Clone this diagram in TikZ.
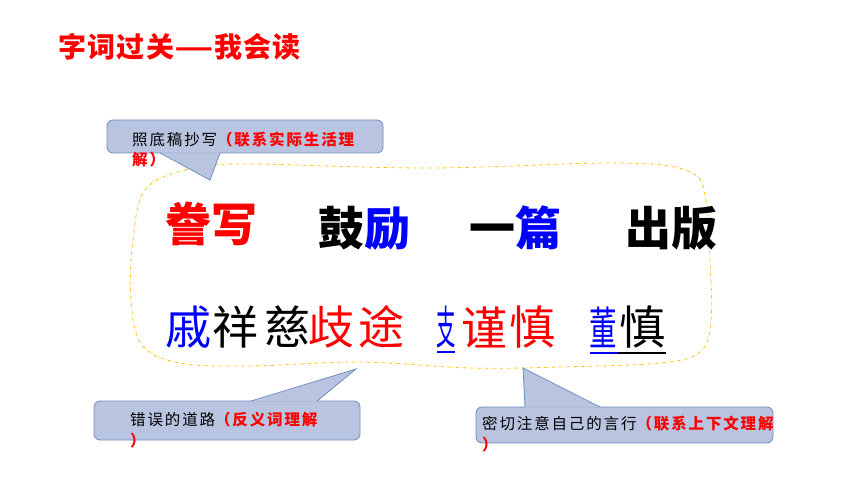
\documentclass[tikz,border=0pt]{standalone}
\usepackage{fontspec}
\newfontfamily\cjk{Noto Sans CJK SC}
\newfontfamily\cjksp{Noto Sans CJK SC}[LetterSpace=12]
\newfontfamily\cjktitle{Noto Sans CJK SC}[LetterSpace=5]
\definecolor{calloutfill}{RGB}{185,196,224}
\definecolor{calloutline}{RGB}{110,140,190}
\definecolor{cloudline}{RGB}{255,192,0}
\definecolor{hired}{RGB}{255,0,0}
\definecolor{hiblue}{RGB}{0,0,255}
\tikzset{
    callout/.style={fill=calloutfill, draw=calloutline, line width=0.8pt},
    note/.style={anchor=base west, inner sep=0pt, align=left, font=\fontsize{15.5}{20.5}\cjksp},
    word/.style={inner sep=0pt, font=\fontsize{46}{46}\cjk\bfseries},
    glyph/.style={inner sep=0pt, font=\fontsize{46}{46}\cjk},
}
\begin{document}
\begin{tikzpicture}[x=1pt,y=-1pt]
            \useasboundingbox (0,0) rectangle (860,484);
            \node[anchor=west, inner sep=0pt, text=hired, font=\fontsize{28}{28}\cjktitle\bfseries] (title) at (58,47) {字词过关\scalebox{1.55}[1]{—}我会读};

            % cloud round the words
            \draw[cloudline, dash dot, line width=0.8pt] plot[smooth cycle, tension=0.6] coordinates {
                (145,190) (185,170) (240,164) (430,168) (620,163) (690,172) (706,200)
                (710,260) (711,320) (700,352) (660,363) (560,367) (470,368) (360,362)
                (250,366) (180,363) (142,345) (131,300) (133,240)};

            % callouts
            \draw[callout, rounded corners=6pt] (107,120) rectangle (383,153);
            \fill[calloutfill] (160,152.4) -- (210,180) -- (220,152.4) -- cycle;
            \draw[calloutline, line width=0.8pt] (160,153) -- (210,180) -- (220,153);

            \draw[callout, rounded corners=6pt] (94,401) rectangle (360,440);
            \fill[calloutfill] (251,401.6) -- (356,369) -- (317,401.6) -- cycle;
            \draw[calloutline, line width=0.8pt] (251,401) -- (356,369) -- (317,401);

            \draw[callout, rounded corners=6pt] (476,407) rectangle (773,443);
            \fill[calloutfill] (525,407.6) -- (523,368) -- (600,407.6) -- cycle;
            \draw[calloutline, line width=0.8pt] (525,407) -- (523,368) -- (600,407);

            % base of each note is the baseline of its second line
            \node[note] (copynote) at (132,166) {照底稿抄写\textcolor{hired}{\bfseries（联系实际生活理}\\\textcolor{hired}{\bfseries 解）}};
            \node[note] (roadnote) at (130,446) {错误的道路\textcolor{hired}{\bfseries（反义词理解}\\\textcolor{hired}{\bfseries ）}};
            \node[note] (carenote) at (482,450) {密切注意自己的言行\textcolor{hired}{\bfseries（联系上下文理解}\\\textcolor{hired}{\bfseries ）}};

            % first row
            \node[word, text=hired] (tengxie) at (211.5,224) {誊写};
            \node[word] (guli) at (364,228) {鼓\textcolor{hiblue}{励}};
            \node[word] (yipian) at (515,228) {一\textcolor{hiblue}{篇}};
            \node[word] (chuban) at (671,228) {出版};

            % second row
            \foreach \cx/\cc/\ch [count=\i] in {188/hiblue/戚,235/black/祥,287/black/慈,331/hired/歧,381/hired/途,484/hired/谨,532/hired/慎,642/black/慎}
            {
                \node[glyph, text=\cc] (g\i) at (\cx,327) {\ch};
            }
                \node[glyph, text=hiblue] (zhi) at (446,327) {\scalebox{0.42}[1]{支}};
                \node[glyph, text=hiblue] (dong) at (603.5,327) {\scalebox{0.6}[1]{董}};
                \draw[hiblue, line width=1.8pt] (437,352) -- (455,352);
                \draw[hiblue, line width=1.8pt] (590,353) -- (617,353);
                \draw[black, line width=1.8pt] (617,353) -- (666,353);

        \end{tikzpicture}
\end{document}
